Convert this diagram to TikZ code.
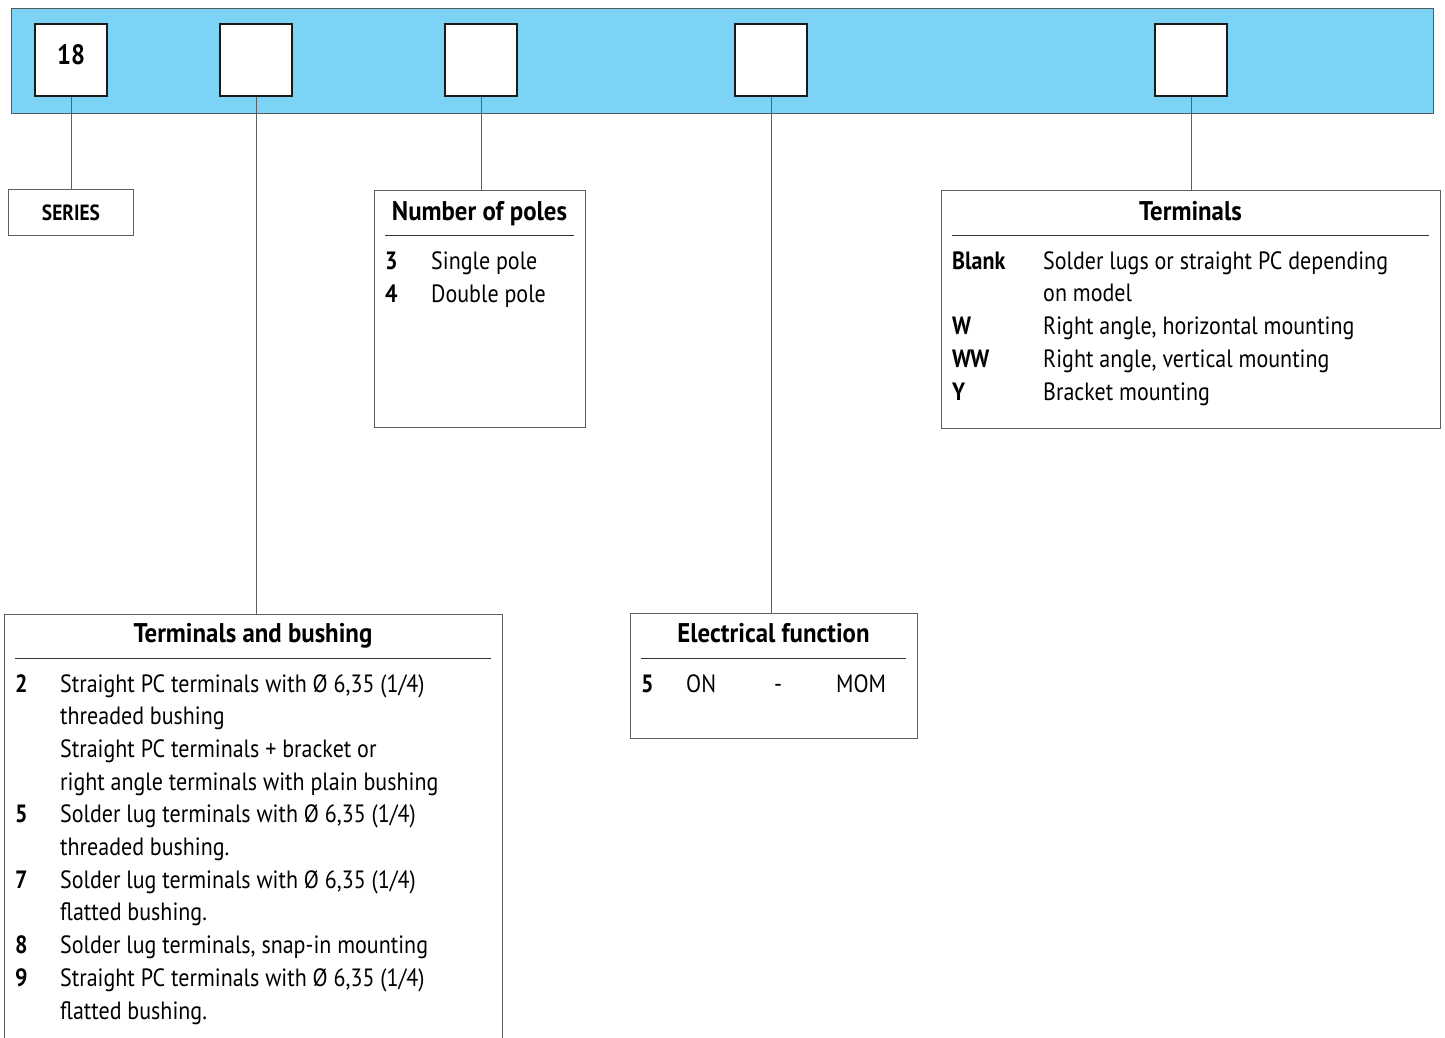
\documentclass[tikz,border=0pt]{standalone}
\usepackage{fontspec}
\setmainfont{PT Sans}[FakeStretch=0.88]
\newfontfamily\titlefont{PT Sans}[FakeStretch=0.92]
\usetikzlibrary{calc}

\definecolor{barblue}{RGB}{125,211,245}
\definecolor{barline}{RGB}{80,90,95}
\definecolor{linegray}{RGB}{95,95,95}

\begin{document}
\begin{tikzpicture}[x=1pt,y=-1pt,
    bar/.style={draw=barline,fill=barblue,line width=1.2pt,anchor=north west,
      minimum width=1422pt,minimum height=105pt,inner sep=0pt},
    codebox/.style={draw=black!90,fill=white,line width=2.6pt,minimum size=72pt,inner sep=0pt},
    infobox/.style={draw=linegray,line width=0.9pt,anchor=north west,inner sep=0pt},
    conn/.style={draw=linegray,line width=0.9pt},
    rulel/.style={draw=black!80,line width=0.8pt},
    boxtitle/.style={anchor=base,inner sep=0pt,font=\titlefont\fontsize{27}{30}\selectfont\bfseries},
    keytxt/.style={anchor=base west,inner sep=0pt,font=\fontsize{25}{28}\selectfont\bfseries},
    itemtxt/.style={anchor=base west,inner sep=0pt,font=\fontsize{25}{28}\selectfont}]
  \useasboundingbox (0,0) rectangle (1445,1037);

  % ordering code bar
  \node[bar] (bar) at (11,8) {};
  \node[codebox] (c1) at (71,60) {};
  \node[codebox] (c2) at (256,60) {};
  \node[codebox] (c3) at (481,60) {};
  \node[codebox] (c4) at (771,60) {};
  \node[codebox] (c5) at (1191,60) {};
  \node[font=\fontsize{28}{30}\selectfont\bfseries] (c1T) at ($(c1.center)+(0,-5)$) {18};

  % series
  \node[infobox,minimum width=125pt,minimum height=46pt] (series) at (8,189) {};
  \node[font=\fontsize{22}{24}\selectfont\bfseries] (seriesT) at (series.center) {SERIES};

  % number of poles
  \node[infobox,minimum width=211pt,minimum height=237pt] (poles) at (374,190) {};
  \node[boxtitle] (polesT) at (479.5,220) {Number of poles};
  \draw[rulel] (385,235) -- (574,235);
  \foreach \k/\t [count=\i] in {3/Single pole,4/Double pole}{
    \node[keytxt] (polesK\i) at (385,{269+(\i-1)*33}) {\k};
    \node[itemtxt] (polesD\i) at (431,{269+(\i-1)*33}) {\t};
  }

  % terminals
  \node[infobox,minimum width=499pt,minimum height=238pt] (term) at (941,190) {};
  \node[boxtitle] (termT) at (1190.5,220) {Terminals};
  \draw[rulel] (952,235) -- (1429,235);
  \foreach \k/\t [count=\i] in {{Blank}/{Solder lugs or straight PC depending},
      {}/{on model},{W}/{Right angle, horizontal mounting},
      {WW}/{Right angle, vertical mounting},{Y}/{Bracket mounting}}{
    \node[keytxt] (termK\i) at (952,{269+(\i-1)*32.8}) {\k};
    \node[itemtxt] (termD\i) at (1043,{269+(\i-1)*32.8}) {\t};
  }

  % terminals and bushing
  \node[infobox,minimum width=498pt,minimum height=440pt] (bush) at (4,614) {};
  \node[boxtitle] (bushT) at (253,642) {Terminals and bushing};
  \draw[rulel] (15,658) -- (491,658);
  \foreach \k/\t [count=\i] in {{2}/{Straight PC terminals with Ø 6,35 (1/4)},
      {}/{threaded bushing},{}/{Straight PC terminals + bracket or},
      {}/{right angle terminals with plain bushing},
      {5}/{Solder lug terminals with Ø 6,35 (1/4)},{}/{threaded bushing.},
      {7}/{Solder lug terminals with Ø 6,35 (1/4)},{}/{flatted bushing.},
      {8}/{Solder lug terminals, snap-in mounting},
      {9}/{Straight PC terminals with Ø 6,35 (1/4)},{}/{flatted bushing.}}{
    \node[keytxt] (bushK\i) at (15,{692+(\i-1)*32.7}) {\k};
    \node[itemtxt] (bushD\i) at (60,{692+(\i-1)*32.7}) {\t};
  }

  % electrical function
  \node[infobox,minimum width=287pt,minimum height=125pt] (elec) at (630,613) {};
  \node[boxtitle] (elecT) at (773.5,642) {Electrical function};
  \draw[rulel] (641,658) -- (906,658);
  \node[keytxt] (elecK) at (641,692) {5};
  \node[itemtxt] (elecOn) at (686,692) {ON};
  \node[itemtxt] (elecDash) at (774,692) {-};
  \node[itemtxt] (elecMom) at (836,692) {MOM};

  % connectors
  \draw[conn] (c1.south) -- (c1.south |- series.north);
  \draw[conn] (c2.south) -- (c2.south |- bush.north);
  \draw[conn] (c3.south) -- (c3.south |- poles.north);
  \draw[conn] (c4.south) -- (c4.south |- elec.north);
  \draw[conn] (c5.south) -- (c5.south |- term.north);
\end{tikzpicture}
\end{document}
